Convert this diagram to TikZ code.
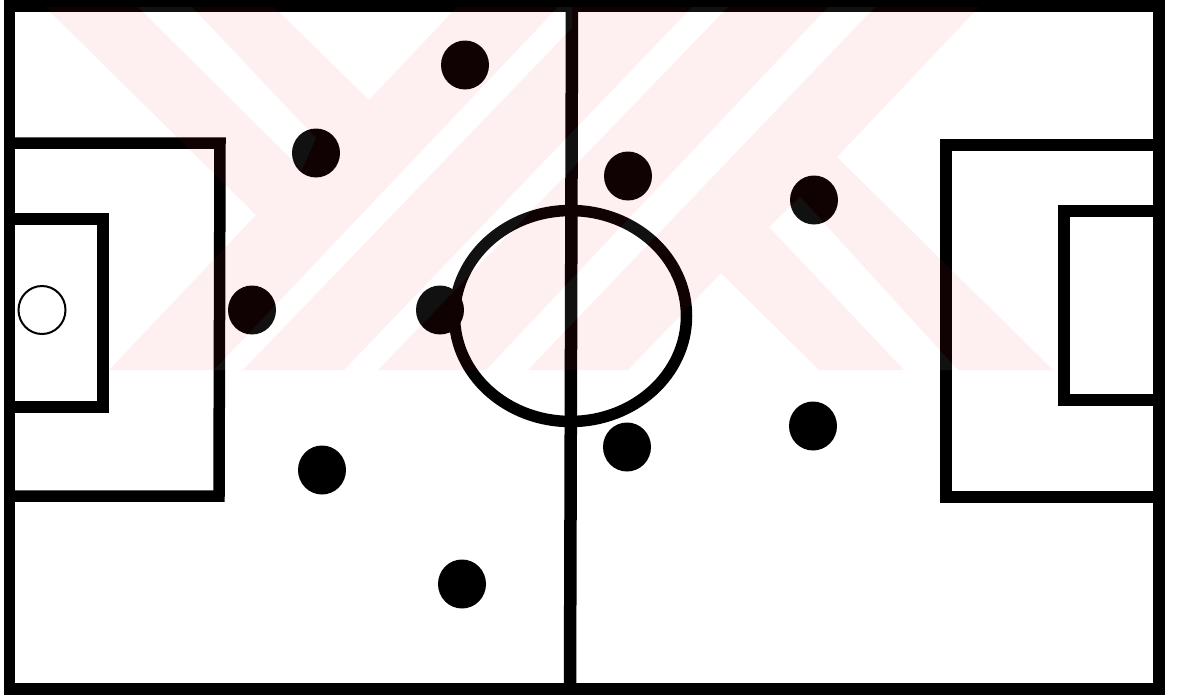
\documentclass[tikz,border=0pt]{standalone}
\usepackage{xcolor}
\definecolor{wmark}{HTML}{F0103A}
\tikzset{
  pitch/.style={draw=black,line width=11.5*0.02cm,line join=miter},
  player/.style={fill=black}
}
\begin{document}
\begin{tikzpicture}[x=0.02cm,y=-0.02cm]
\useasboundingbox (0,0) rectangle (1184,697);
\fill[white] (0,0) rectangle (1184,697);
% field
\draw[pitch] (9.5,6)--(1159,6)--(1159,689)--(9.5,689)--cycle;
\draw[pitch,line width=12.5*0.02cm] (572,6)--(570,689);
\draw[pitch] (10,143)--(220,143)--(219,496)--(10,496);
\draw[pitch] (10,219)--(103,219)--(103,407)--(10,407);
\draw[pitch] (1159,145)--(946,145)--(946,497)--(1159,497);
\draw[pitch] (1159,211)--(1064,211)--(1064,400)--(1159,400);
\draw[pitch] (570.5,316) ellipse (116 and 105.5);
% players
\foreach \px/\py in {465/65,316/153,252/310,440/310,322/470,462/584,628/176,814/200,627/447,813/426}
  \fill[player] (\px,\py) ellipse (24 and 24.5);
\draw[black,line width=2*0.02cm] (42,310) ellipse (23.5 and 24);
% watermark, laid over everything
\def\wstripes{
  (138,7)--(192,7)--(316,138)--(302,170)--cycle
  (558,7)--(572,7)--(572,28)--(243,370)--(214,370)--cycle
  (692,7)--(728,7)--(378,370)--(344,370)--cycle
  (828,7)--(875,7)--(528,370)--(486,370)--cycle
  (769,227)--(800,197)--(814,212)--(958,370)--(904,370)--cycle
}
\fill[wmark,fill opacity=0.065,even odd rule] (45,7)--(274,7)--(369,100)--(457,7)--(979,7)--(837,157)--(1053,370)--(819,370)
  --(721,273)--(628,370)--(109,370)--(256,215)--cycle \wstripes;
\fill[white,fill opacity=0.065] \wstripes;
\end{tikzpicture}
\end{document}
